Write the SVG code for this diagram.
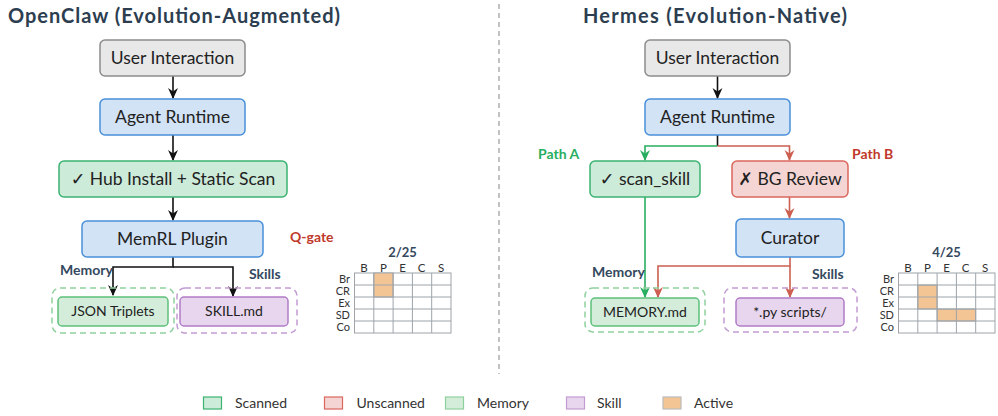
<svg xmlns="http://www.w3.org/2000/svg" width="998" height="416" viewBox="0 0 998 416">
<style>
text{font-family:Lato,"Open Sans","DejaVu Sans",sans-serif;}
.title{font-size:20px;font-weight:bold;fill:#2c3e50;}
.lbl{font-size:17.5px;fill:#222;text-anchor:middle;}
.sm{font-size:14px;fill:#222;text-anchor:middle;}
.grp{font-size:14px;font-weight:bold;fill:#34495e;}
.gray{fill:#e8e8e8;stroke:#8c8c8c;stroke-width:1.5;}
.blue{fill:#d2e3f5;stroke:#4a90d9;stroke-width:1.5;}
.green{fill:#cdebd9;stroke:#3cb371;stroke-width:1.5;}
.red{fill:#f5d5d3;stroke:#d9675e;stroke-width:1.5;}
.mem{fill:#d4edda;stroke:#5cc07a;stroke-width:1.5;}
.skill{fill:#e8d6ee;stroke:#b07cc6;stroke-width:1.5;}
.dmem{fill:none;stroke:#8fd19e;stroke-width:1.5;stroke-dasharray:6,4;}
.dskill{fill:none;stroke:#c39bd3;stroke-width:1.5;stroke-dasharray:6,4;}
.blk{fill:none;stroke:#111;stroke-width:1.6;}
.gl{fill:none;stroke:#27ae60;stroke-width:1.6;}
.rl{fill:none;stroke:#cc5f50;stroke-width:1.6;}
.cell{fill:#fff;stroke:#9ea4aa;stroke-width:1;}
.act{fill:#f3c595;stroke:#9ea4aa;stroke-width:1;}
.gt{font-size:11.5px;fill:#333;text-anchor:middle;}
.gr{font-size:11px;fill:#333;text-anchor:end;}
.gh{font-size:13px;font-weight:bold;fill:#34495e;text-anchor:middle;}
.leg{font-size:14px;fill:#333;}
.pl{font-size:14px;font-weight:bold;}
.ck{font-weight:bold;}
</style>
<defs>
<marker id="ab" viewBox="0 0 10 10" refX="9" refY="5" markerWidth="11" markerHeight="11" orient="auto" markerUnits="userSpaceOnUse"><path d="M0,0.5 L10,5 L0,9.5 L3,5 z" fill="#111"/></marker>
<marker id="ag" viewBox="0 0 10 10" refX="9" refY="5" markerWidth="11" markerHeight="11" orient="auto" markerUnits="userSpaceOnUse"><path d="M0,0.5 L10,5 L0,9.5 L3,5 z" fill="#27ae60"/></marker>
<marker id="ar" viewBox="0 0 10 10" refX="9" refY="5" markerWidth="11" markerHeight="11" orient="auto" markerUnits="userSpaceOnUse"><path d="M0,0.5 L10,5 L0,9.5 L3,5 z" fill="#cc5f50"/></marker>
</defs>

<!-- divider -->
<line x1="499" y1="4" x2="499" y2="374" stroke="#999" stroke-width="1.2" stroke-dasharray="5,4"/>

<!-- titles -->
<text class="title" x="8" y="23" textLength="332" lengthAdjust="spacing">OpenClaw (Evolution-Augmented)</text>
<text class="title" x="583" y="23" textLength="264" lengthAdjust="spacing">Hermes (Evolution-Native)</text>

<!-- connectors -->
<g id="connectors">
<line class="blk" x1="173" y1="76" x2="173" y2="98" marker-end="url(#ab)"/>
<line class="blk" x1="173" y1="135" x2="173" y2="160" marker-end="url(#ab)"/>
<line class="blk" x1="173" y1="197" x2="173" y2="220" marker-end="url(#ab)"/>
<polyline class="blk" points="173,257 173,267 113,267 113,295" marker-end="url(#ab)"/>
<polyline class="blk" points="173,267 233,267 233,296" marker-end="url(#ab)"/>

<line class="blk" x1="717.5" y1="76" x2="717.5" y2="98" marker-end="url(#ab)"/>
<line class="blk" x1="717.5" y1="135" x2="717.5" y2="146"/>
<polyline class="gl" points="717.5,146 645,146 645,160" marker-end="url(#ag)"/>
<polyline class="rl" points="717.5,146 789.5,146 789.5,160" marker-end="url(#ar)"/>
<line class="rl" x1="789.5" y1="197" x2="789.5" y2="218" marker-end="url(#ar)"/>
<line class="gl" x1="645" y1="197" x2="645" y2="297" marker-end="url(#ag)"/>
<polyline class="rl" points="790,257 790,266 658,266 658,297" marker-end="url(#ar)"/>
<line class="rl" x1="790" y1="266" x2="790" y2="297" marker-end="url(#ar)"/>
</g>

<!-- left nodes -->
<g id="oc-user"><rect class="gray" x="100" y="40" width="145" height="36" rx="5"/><text class="lbl" x="172.5" y="64">User Interaction</text></g>
<g id="oc-runtime"><rect class="blue" x="100" y="99" width="145" height="36" rx="5"/><text class="lbl" x="172.5" y="123">Agent Runtime</text></g>
<g id="oc-hub"><rect class="green" x="59" y="161" width="228" height="36" rx="5"/><text class="lbl" x="173" y="185"><tspan class="ck">✓</tspan> Hub Install + Static Scan</text></g>
<g id="oc-memrl"><rect class="blue" x="82" y="221" width="181" height="36" rx="5"/><text class="lbl" x="172.5" y="245">MemRL Plugin</text></g>
<text class="pl" x="290" y="242" fill="#c0392b">Q-gate</text>
<text class="grp" x="60" y="275">Memory</text>
<text class="grp" x="249" y="279">Skills</text>
<g id="oc-memgroup"><rect class="dmem" x="52" y="288" width="122" height="45" rx="8"/></g>
<g id="oc-json"><rect class="mem" x="58" y="297" width="110" height="29" rx="4"/><text class="sm" x="113" y="316">JSON Triplets</text></g>
<g id="oc-skillgroup"><rect class="dskill" x="177" y="288" width="120" height="45" rx="8"/></g>
<g id="oc-skillmd"><rect class="skill" x="180" y="297" width="108" height="29" rx="4"/><text class="sm" x="234" y="316">SKILL.md</text></g>

<!-- right nodes -->
<g id="h-user"><rect class="gray" x="645" y="40" width="145" height="36" rx="5"/><text class="lbl" x="717.5" y="64">User Interaction</text></g>
<g id="h-runtime"><rect class="blue" x="645" y="99" width="145" height="36" rx="5"/><text class="lbl" x="717.5" y="123">Agent Runtime</text></g>
<text class="pl" x="538" y="159" fill="#27ae60">Path A</text>
<text class="pl" x="852" y="159" fill="#c0392b">Path B</text>
<g id="h-scan"><rect class="green" x="590" y="161" width="110" height="36" rx="5"/><text class="lbl" x="645" y="185"><tspan class="ck">✓</tspan> scan_skill</text></g>
<g id="h-bg"><rect class="red" x="732" y="161" width="116" height="36" rx="5"/><text class="lbl" x="790" y="185"><tspan class="ck">✗</tspan> BG Review</text></g>
<g id="h-curator"><rect class="blue" x="736" y="219" width="108" height="38" rx="5"/><text class="lbl" x="790" y="244">Curator</text></g>
<text class="grp" x="592" y="277">Memory</text>
<text class="grp" x="812" y="279">Skills</text>
<g id="h-memgroup"><rect class="dmem" x="585" y="288" width="120" height="44" rx="8"/></g>
<g id="h-memorymd"><rect class="mem" x="591" y="298" width="108" height="28" rx="4"/><text class="sm" x="645" y="316.5">MEMORY.md</text></g>
<g id="h-skillgroup"><rect class="dskill" x="724" y="288" width="133" height="44" rx="8"/></g>
<g id="h-py"><rect class="skill" x="736" y="298" width="108" height="28" rx="4"/><text class="sm" x="790" y="316.5">*.py scripts/</text></g>

<!-- left grid -->
<g id="oc-grid">
<text class="gh" x="402.5" y="257">2/25</text>
<text class="gt" x="364" y="272">B</text><text class="gt" x="383.5" y="272">P</text><text class="gt" x="402.5" y="272">E</text><text class="gt" x="421.5" y="272">C</text><text class="gt" x="441" y="272">S</text>
<text class="gr" x="350" y="283">Br</text><text class="gr" x="350" y="295">CR</text><text class="gr" x="350" y="307">Ex</text><text class="gr" x="350" y="319">SD</text><text class="gr" x="350" y="331">Co</text>
<rect class="cell" x="354.5" y="273" width="96.5" height="60"/>
<rect class="act" x="373.8" y="273" width="19.3" height="24"/>
<path d="M373.8,273V333M393.1,273V333M412.4,273V333M431.7,273V333M354.5,285H451M354.5,297H451M354.5,309H451M354.5,321H451" stroke="#9ea4aa" stroke-width="1" fill="none"/>
</g>

<!-- right grid -->
<g id="h-grid">
<text class="gh" x="946.5" y="257">4/25</text>
<text class="gt" x="908" y="272">B</text><text class="gt" x="927.5" y="272">P</text><text class="gt" x="946.5" y="272">E</text><text class="gt" x="965.5" y="272">C</text><text class="gt" x="985" y="272">S</text>
<text class="gr" x="894" y="283">Br</text><text class="gr" x="894" y="295">CR</text><text class="gr" x="894" y="307">Ex</text><text class="gr" x="894" y="319">SD</text><text class="gr" x="894" y="331">Co</text>
<rect class="cell" x="898.5" y="273" width="96.5" height="60"/>
<rect class="act" x="917.8" y="285" width="19.3" height="24"/>
<rect class="act" x="937.1" y="309" width="38.6" height="12"/>
<path d="M917.8,273V333M937.1,273V333M956.4,273V333M975.7,273V333M898.5,285H995M898.5,297H995M898.5,309H995M898.5,321H995" stroke="#9ea4aa" stroke-width="1" fill="none"/>
</g>

<!-- legend -->
<g id="legend">
<rect x="203.5" y="397" width="18" height="12" fill="#cdebd9" stroke="#3cb371" stroke-width="1.2"/><text class="leg" x="235" y="408">Scanned</text>
<rect x="324.5" y="397" width="18" height="12" fill="#f5d5d3" stroke="#d9675e" stroke-width="1.2"/><text class="leg" x="356.5" y="408">Unscanned</text>
<rect x="445.5" y="397" width="18" height="12" fill="#d4edda" stroke="#8fd19e" stroke-width="1.2"/><text class="leg" x="477" y="408">Memory</text>
<rect x="566.5" y="397" width="18" height="12" fill="#e8d6ee" stroke="#c39bd3" stroke-width="1.2"/><text class="leg" x="597" y="408">Skill</text>
<rect x="663" y="397" width="18" height="12" fill="#f3c595" stroke="#bbb" stroke-width="1.2"/><text class="leg" x="694" y="408">Active</text>
</g>
</svg>
